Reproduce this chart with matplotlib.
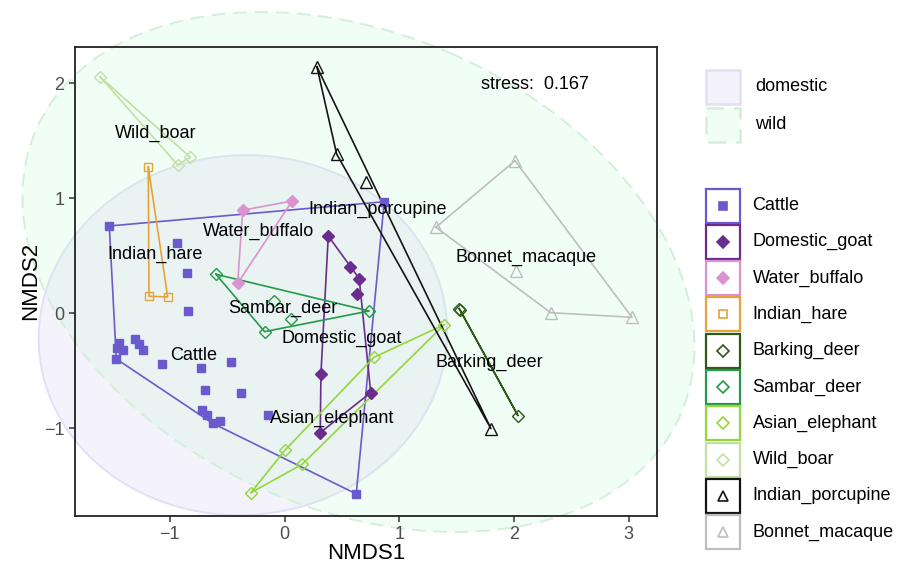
import numpy as np
import matplotlib
matplotlib.use("Agg")
import matplotlib.pyplot as plt
from matplotlib.patches import Ellipse, Rectangle

plt.rcParams['font.family'] = ['Liberation Sans', 'DejaVu Sans']

# NMDS scores
cattle_x = [-1.528, 0.869, 0.625, -1.467, -0.94, -0.848, -0.84, -1.441, -1.459, -1.406,
            -1.304, -1.269, -1.237, -1.066, -0.726, -0.465, -0.691, -0.378, -0.72,
            -0.679, -0.627, -0.561, -0.142]
cattle_y = [0.759, 0.970, -1.571, -0.397, 0.609, 0.348, 0.02, -0.256, -0.304, -0.319,
            -0.226, -0.267, -0.319, -0.443, -0.473, -0.426, -0.664, -0.696, -0.841,
            -0.884, -0.957, -0.934, -0.884]
goat_x = [0.381, 0.573, 0.651, 0.634, 0.317, 0.311, 0.751]
goat_y = [0.672, 0.405, 0.301, 0.165, -0.528, -1.038, -0.690]
buffalo_x = [-0.365, 0.067, -0.409]
buffalo_y = [0.896, 0.977, 0.261]
hare_x = [-1.188, -1.182, -1.019]
hare_y = [1.272, 0.148, 0.142]
barking_x = [1.523, 1.530, 2.035]
barking_y = [0.040, 0.028, -0.890]
sambar_x = [-0.598, -0.095, 0.056, -0.174, 0.738]
sambar_y = [0.339, 0.107, -0.052, -0.160, 0.020]
elephant_x = [0.779, 0.003, 0.154, -0.293, 1.393]
elephant_y = [-0.383, -1.191, -1.313, -1.560, -0.099]
boar_x = [-1.609, -0.932, -0.822]
boar_y = [2.057, 1.290, 1.357]
porcupine_x = [0.282, 0.454, 0.710, 1.799]
porcupine_y = [2.144, 1.385, 1.139, -1.003]
macaque_x = [2.009, 1.320, 2.020, 2.320, 3.029]
macaque_y = [1.327, 0.748, 0.370, 0.005, -0.035]

species = ["Cattle", "Domestic_goat", "Water_buffalo", "Indian_hare", "Barking_deer",
           "Sambar_deer", "Asian_elephant", "Wild_boar", "Indian_porcupine", "Bonnet_macaque"]
xs = [cattle_x, goat_x, buffalo_x, hare_x, barking_x, sambar_x, elephant_x, boar_x,
      porcupine_x, macaque_x]
ys = [cattle_y, goat_y, buffalo_y, hare_y, barking_y, sambar_y, elephant_y, boar_y,
      porcupine_y, macaque_y]

# species label positions (group centres)
label_x = [-0.796, 0.501, -0.223, -1.128, 1.782, -0.014, 0.411, -1.122, 0.814, 2.102]
label_y = [-0.365, -0.218, 0.713, 0.513, -0.426, 0.043, -0.913, 1.565, 0.904, 0.487]

# group ellipses: centre and covariance
groups = ["domestic", "wild"]
ell_centre = [(-0.363, -0.19), (0.644, 0.359)]
ell_cov = [[[3.17, 0.05], [0.05, 2.45]], [[8.58, -1.91], [-1.91, 5.11]]]
stress = 0.167

colors = ["#6A5ACD", "#6A2C8F", "#DA93CE", "#E8A23A", "#2E5A17",
          "#25994A", "#95D63C", "#C3E0A4", "#141414", "#BEBEBE"]
markers = ["s", "D", "D", "s", "D", "D", "D", "D", "^", "^"]
filled = [True, True, True, False, False, False, False, False, False, False]
ell_face = [(200/255, 192/255, 232/255, 0.2), (185/255, 250/255, 210/255, 0.2)]
ell_edge = ["#E3DFF6", "#D3EFD9"]
ell_style = ["solid", (0, (7, 4))]
msize = {"s": 5.5, "D": 6.5, "^": 8}


def hull(px, py):
    pts = sorted(set(zip(px, py)))
    if len(pts) < 3:
        return pts

    def cross(o, a, b):
        return (a[0]-o[0])*(b[1]-o[1]) - (a[1]-o[1])*(b[0]-o[0])
    lower, upper = [], []
    for p in pts:
        while len(lower) >= 2 and cross(lower[-2], lower[-1], p) <= 0:
            lower.pop()
        lower.append(p)
    for p in reversed(pts):
        while len(upper) >= 2 and cross(upper[-2], upper[-1], p) <= 0:
            upper.pop()
        upper.append(p)
    return lower[:-1] + upper[:-1]


fig = plt.figure(figsize=(9.01, 5.69), dpi=100)
ax = fig.add_axes([75/901, 53/569, 582/901, 469.3/569])

for i in range(len(groups)):
    cov = np.array(ell_cov[i])
    vals, vecs = np.linalg.eigh(cov)
    ang = np.degrees(np.arctan2(vecs[1, 1], vecs[0, 1]))
    e = Ellipse(ell_centre[i], 2*np.sqrt(vals[1]), 2*np.sqrt(vals[0]), angle=ang,
                facecolor=ell_face[i], edgecolor=ell_edge[i],
                linestyle=ell_style[i], linewidth=1.4, clip_on=False, zorder=1)
    ax.add_patch(e)

for i in range(len(species)):
    h = hull(xs[i], ys[i])
    hx = [p[0] for p in h] + [h[0][0]]
    hy = [p[1] for p in h] + [h[0][1]]
    ax.plot(hx, hy, color=colors[i], lw=1.2, zorder=2)
    ms = msize[markers[i]]
    if not filled[i] and markers[i] == "s":
        ms = 6
    ax.plot(xs[i], ys[i], linestyle="none", marker=markers[i], ms=ms,
            markerfacecolor=colors[i] if filled[i] else "none",
            markeredgecolor=colors[i], markeredgewidth=1.0, zorder=3)
    ax.text(label_x[i], label_y[i], species[i], ha="center", va="center",
            fontsize=13, color="black", zorder=4)

ax.text(1.716, 1.991, "stress:  %.3f" % stress, ha="left", va="center", fontsize=13)

ax.set_xlim(-1.827, 3.247)
ax.set_ylim(-1.763, 2.318)
ax.set_xticks([-1, 0, 1, 2, 3])
ax.set_yticks([-1, 0, 1, 2])
ax.set_xlabel("NMDS1", fontsize=16, labelpad=0)
ax.set_ylabel("NMDS2", fontsize=16, labelpad=2)
ax.tick_params(labelsize=13, labelcolor="#4D4D4D", color="#333333", length=4, width=1.1)
for s in ax.spines.values():
    s.set_linewidth(1.3)
    s.set_color("#222222")
ax.set_facecolor("none")
ax.set_zorder(2)

# legends drawn in pixel coordinates
lax = fig.add_axes([0, 0, 1, 1])
lax.set_xlim(0, 901)
lax.set_ylim(569, 0)
lax.axis("off")
lax.set_zorder(3)

fill_top = [69.5, 107.5]
for i in range(len(groups)):
    lax.add_patch(Rectangle((705.5, fill_top[i]), 34, 34,
                            facecolor=ell_face[i], edgecolor=ell_edge[i],
                            linestyle=ell_style[i], linewidth=1.8))
    lax.text(755, fill_top[i] + 17, groups[i], ha="left", va="center", fontsize=13)

for i in range(len(species)):
    cy = 205.5 + 36.3 * i
    lax.add_patch(Rectangle((706, cy - 17), 33.5, 34, facecolor="white",
                            edgecolor=colors[i], linewidth=1.6))
    ms = {"s": 5.8, "D": 6, "^": 7}[markers[i]]
    if not filled[i] and markers[i] == "s":
        ms = 5.5
    lax.plot([722.75], [cy], linestyle="none", marker=markers[i], ms=ms,
             markerfacecolor=colors[i] if filled[i] else "none",
             markeredgecolor=colors[i], markeredgewidth=1.2)
    lax.text(752.5, cy, species[i], ha="left", va="center", fontsize=13)

fig.savefig("out.png", dpi=100)
